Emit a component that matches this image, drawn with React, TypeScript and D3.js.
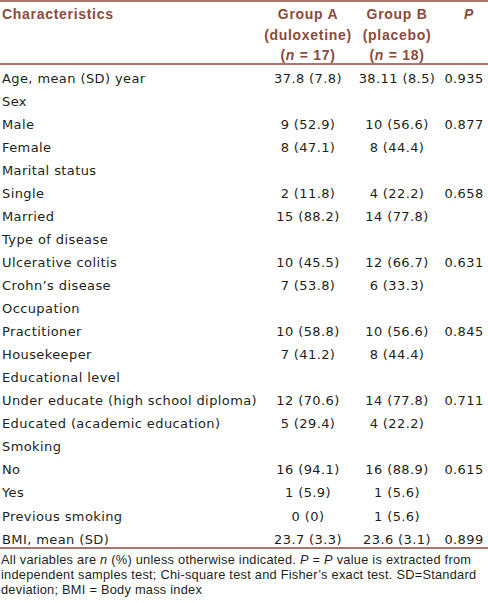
import React from "react";
import * as d3 from "d3";

const labels = [
  "Age, mean (SD) year", "Sex", "Male", "Female", "Marital status", "Single", "Married",
  "Type of disease", "Ulcerative colitis", "Crohn’s disease", "Occupation", "Practitioner",
  "Housekeeper", "Educational level", "Under educate (high school diploma)",
  "Educated (academic education)", "Smoking", "No", "Yes", "Previous smoking", "BMI, mean (SD)",
];
const groupA = [
  "37.8 (7.8)", "", "9 (52.9)", "8 (47.1)", "", "2 (11.8)", "15 (88.2)", "", "10 (45.5)",
  "7 (53.8)", "", "10 (58.8)", "7 (41.2)", "", "12 (70.6)", "5 (29.4)", "", "16 (94.1)",
  "1 (5.9)", "0 (0)", "23.7 (3.3)",
];
const groupB = [
  "38.11 (8.5)", "", "10 (56.6)", "8 (44.4)", "", "4 (22.2)", "14 (77.8)", "", "12 (66.7)",
  "6 (33.3)", "", "10 (56.6)", "8 (44.4)", "", "14 (77.8)", "4 (22.2)", "", "16 (88.9)",
  "1 (5.6)", "1 (5.6)", "23.6 (3.1)",
];
const pValues = [
  "0.935", "", "0.877", "", "", "0.658", "", "", "0.631", "", "", "0.845", "", "", "0.711",
  "", "", "0.615", "", "", "0.899",
];
const columns = ["label", "A", "B", "P"];

const BROWN = "#8c4b3b";
const INK = "#231f20";
const BODY_FONT = "'DejaVu Sans', sans-serif";
const HEAD_FONT = "'Liberation Sans', Arial, sans-serif";

export default function App() {
  const W = 488, H = 603;
  const y = d3.scalePoint<number>().domain(d3.range(labels.length)).range([78, 539]);
  const x = d3.scaleOrdinal<string, number>().domain(columns).range([2, 308, 397, 464]);

  return (
    <svg width={W} height={H} style={{ position: "absolute", left: 0, top: 0, background: "#fff" }}>
      <rect width={W} height={H} fill="#fff" />
      {/* rules */}
      <line x1={0} x2={W} y1={1} y2={1} stroke={BROWN} strokeWidth={1.5} />
      <line x1={0} x2={W} y1={64} y2={64} stroke={BROWN} strokeWidth={1.5} />
      <line x1={0} x2={W} y1={548} y2={548} stroke={BROWN} strokeWidth={1.5} />

      {/* header */}
      <g fontFamily={HEAD_FONT} fontWeight="bold" fontSize={14} letterSpacing={0.7} fill={BROWN}>
        <text x={x("label")} y={19}>Characteristics</text>
        <text x={x("A")} y={19} textAnchor="middle">Group A</text>
        <text x={x("A")} y={40} textAnchor="middle">(duloxetine)</text>
        <text x={x("A")} y={60} textAnchor="middle">(<tspan fontStyle="italic">n</tspan> = 17)</text>
        <text x={x("B")} y={19} textAnchor="middle">Group B</text>
        <text x={x("B")} y={40} textAnchor="middle">(placebo)</text>
        <text x={x("B")} y={60} textAnchor="middle">(<tspan fontStyle="italic">n</tspan> = 18)</text>
        <text x={x("P") + 5} y={19} textAnchor="middle" fontStyle="italic">P</text>
      </g>

      {/* body */}
      <g fontFamily={BODY_FONT} fontSize={13} letterSpacing={0.4} fill={INK}>
        {labels.map((l, i) => (
          <g key={i}>
            <text x={x("label")} y={y(i)} dy="0.35em">{l}</text>
            {groupA[i] && <text x={x("A")} y={y(i)} dy="0.35em" textAnchor="middle">{groupA[i]}</text>}
            {groupB[i] && <text x={x("B")} y={y(i)} dy="0.35em" textAnchor="middle">{groupB[i]}</text>}
            {pValues[i] && <text x={x("P")} y={y(i)} dy="0.35em" textAnchor="middle">{pValues[i]}</text>}
          </g>
        ))}
      </g>

      {/* footnote */}
      <g fontFamily={HEAD_FONT} fontSize={12.8} letterSpacing={0.25} fill={INK}>
        <text x={1} y={564}>
          All variables are <tspan fontStyle="italic">n</tspan> (%) unless otherwise indicated. <tspan fontStyle="italic">P</tspan> = <tspan fontStyle="italic">P</tspan> value is extracted from
        </text>
        <text x={1} y={579}>
          independent samples test; Chi-square test and Fisher’s exact test. SD=Standard
        </text>
        <text x={1} y={594}>deviation; BMI = Body mass index</text>
      </g>
    </svg>
  );
}
